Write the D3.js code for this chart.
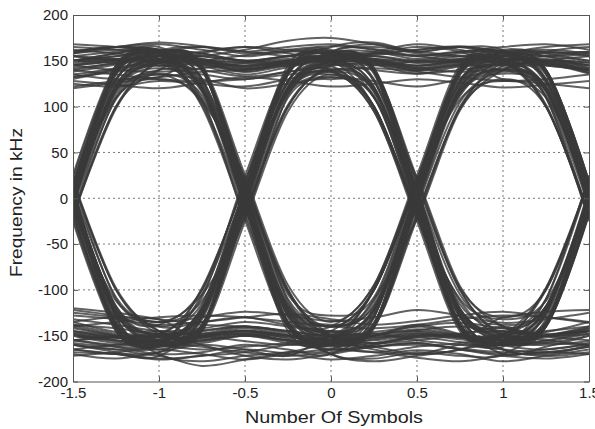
<!DOCTYPE html>
<html><head><meta charset="utf-8">
<script src="https://cdn.jsdelivr.net/npm/d3@7"></script>
<style>
html,body{margin:0;padding:0;background:#fff;}
svg{display:block;font-family:"Liberation Sans",Arial,sans-serif;}
</style></head>
<body>
<svg id="chart" width="595" height="429"></svg>
<script>
// ---- data ----
const xTicks = [-1.5, -1, -0.5, 0, 0.5, 1, 1.5];
const yTicks = [-200, -150, -100, -50, 0, 50, 100, 150, 200];
const sampleX = [-1.5, -1.25, -1, -0.75, -0.5, -0.25, 0, 0.25, 0.5, 0.75, 1, 1.25, 1.5];
// frequency (kHz) of each trace at sampleX
const traces = [
  [140,148,155,150,142,147,152,146,136,144,150,152,145],
  [135,142,150,146,138,149,156,150,140,146,152,118,-4],
  [145,150,158,152,144,148,150,118,3,-122,-142,-118,6],
  [130,140,148,144,135,143,150,122,-6,-125,-155,-150,-140],
  [142,147,152,120,-5,-118,-145,-122,4,120,150,147,138],
  [138,146,155,125,8,-115,-138,-118,-3,117,140,122,7],
  [146,152,156,118,2,-124,-152,-150,-140,-149,-158,-120,-5],
  [132,141,150,123,-7,-120,-150,-148,-145,-150,-160,-155,-145],
  [4,-120,-150,-122,6,120,148,146,140,148,155,150,142],
  [-8,-125,-155,-120,-2,122,152,150,144,150,147,117,2],
  [5,-118,-140,-115,9,114,132,110,-5,-116,-138,-118,3],
  [-3,-122,-148,-125,4,118,140,120,-7,-124,-152,-146,-135],
  [6,-122,-155,-150,-142,-150,-158,-124,-2,121,150,148,140],
  [-5,-126,-160,-152,-145,-152,-150,-120,8,116,138,119,-6],
  [2,-118,-152,-148,-140,-146,-155,-150,-138,-148,-160,-124,3],
  [-6,-125,-158,-155,-148,-156,-165,-160,-150,-152,-158,-150,-142],
  [-3,121,150,148,141,146,153,148,139,145,152,149,140],
  [7,124,152,147,140,149,155,151,142,149,150,120,-2],
  [-5,118,148,150,143,150,152,121,-4,-121,-148,-122,5],
  [4,123,155,150,138,145,148,118,6,-120,-152,-150,-142],
  [2,117,142,116,-6,-122,-150,-121,-3,118,148,150,145],
  [-7,114,136,112,4,-117,-140,-116,6,114,136,116,-4],
  [6,120,145,118,-3,-126,-158,-154,-146,-152,-156,-121,2],
  [-2,119,147,121,5,-123,-155,-150,-143,-150,-160,-158,-150],
  [-140,-150,-158,-124,3,121,150,148,142,146,151,148,137],
  [-145,-152,-155,-121,-5,118,146,150,145,151,153,121,5],
  [-138,-148,-156,-125,7,117,138,116,-6,-122,-150,-120,-3],
  [-150,-156,-162,-128,-4,120,142,117,3,-124,-155,-152,-145],
  [-142,-150,-157,-152,-146,-153,-160,-127,4,122,152,147,136],
  [-135,-146,-152,-150,-144,-150,-155,-122,-7,115,140,118,5],
  [-148,-155,-160,-156,-150,-158,-165,-160,-152,-157,-162,-126,-2],
  [-146,-152,-158,-153,-148,-155,-162,-158,-150,-154,-160,-156,-148],
  [122,128,135,130,120,125,132,128,122,130,140,112,-10],
  [158,165,170,166,160,165,168,162,155,160,165,168,162],
  [-160,-168,-175,-172,-165,-170,-176,-172,-166,-170,-178,-172,-165],
  [-122,-128,-135,-130,-124,-128,-134,-130,-122,-128,-136,-132,-125],
  [12,110,130,108,15,-105,-128,-108,14,108,128,110,15],
  [-12,-112,-135,-112,-14,110,130,112,-12,-110,-132,-112,-13],
  [150,158,162,130,12,-110,-140,-112,12,128,160,155,142],
  [-160,-165,-168,-132,-10,115,135,110,-12,-130,-170,-162,-150],
  [10,-130,-170,-178,-172,-168,-165,-130,10,126,155,150,140],
  [-10,128,160,165,158,162,166,163,156,160,158,125,-10],
  [12,130,160,158,150,155,160,130,10,-128,-165,-170,-160],
  [150,158,165,130,10,-130,-170,-175,-168,-172,-170,-132,-12],
  [-165,-170,-172,-130,-8,126,158,160,152,158,160,128,8],
  [12,-130,-165,-128,10,128,160,168,160,165,162,130,10],
  [-155,-162,-170,-168,-160,-165,-170,-130,10,125,152,130,12],
  [160,165,168,162,155,160,162,128,10,-128,-160,-125,10],
  [-168,-170,-172,-183,-176,-168,-160,-162,-158,-165,-170,-168,-162],
  [150,148,150,155,162,172,175,168,158,155,158,160,155],
  [-18,-138,-150,-100,18,138,150,100,-18,-138,-152,-100,18],
  [18,-100,-148,-140,-18,100,145,140,18,-100,-150,-140,-18],
  [16,136,152,102,-16,-140,-155,-98,20,140,150,102,-20],
  [-20,98,150,142,16,-102,-152,-138,-16,98,148,140,18],
  [160,165,162,142,20,-100,-150,-165,-170,-160,-155,-98,20],
  [-125,-130,-138,-100,18,138,155,160,168,162,150,140,18],
  [125,122,128,125,122,130,138,100,-18,-138,-165,-172,-168],
  [-170,-175,-168,-160,-165,-172,-150,-140,-18,100,145,160,165],
  [-15,-140,-160,-98,16,140,165,170,160,165,150,100,-18],
  [15,138,158,100,-20,-135,-170,-178,-172,-165,-150,-140,-16],
  [120,126,132,140,18,-100,-148,-100,18,138,130,125,120],
  [-120,-125,-132,-140,-18,100,140,100,-18,-140,-130,-124,-122],
  [128,124,120,126,132,128,122,125,130,126,121,124,128],
  [162,158,155,160,165,158,152,156,162,166,160,155,158],
  [-172,-168,-165,-170,-176,-170,-165,-168,-174,-178,-172,-168,-170],
  [-138,-142,-148,-144,-140,-145,-150,-146,-140,-136,-142,-148,-144],
  [-128,-132,-138,-135,-130,-126,-132,-138,-134,-128,-124,-130,-136],
  [145,140,138,142,148,152,147,140,136,140,146,150,148],
  [-18,100,140,158,165,162,158,152,145,150,158,165,168],
  [168,165,160,152,148,145,150,158,165,160,145,140,18],
  [18,-100,-145,-160,-172,-176,-170,-162,-158,-165,-172,-175,-170],
  [-165,-170,-176,-172,-168,-160,-155,-162,-170,-165,-150,-98,18],
  [-16,-138,-150,-145,-140,-148,-158,-100,16,138,150,100,-16],
  [16,138,150,146,140,148,152,142,16,-100,-148,-140,-16],
  [20,-98,-145,-138,-16,102,138,98,-20,-140,-160,-165,-158],
  [-20,100,148,140,14,-102,-140,-100,20,140,162,158,150],
  [0,-135,-155,-140,5,140,158,138,-8,-142,-160,-140,10],
  [-5,140,160,142,8,-138,-158,-136,-4,138,155,140,6],
  [150,155,160,145,25,-95,-135,-95,25,145,158,110,-25],
  [-150,-158,-160,-145,-25,95,135,95,-25,-145,-158,-110,25],
  [-25,-145,-160,-155,-150,-155,-160,-110,-22,96,140,150,155],
  [25,145,160,155,150,155,160,110,22,-96,-140,-150,-155],
  [155,150,148,108,-24,-140,-155,-140,-10,105,140,150,148],
  [-155,-150,-148,-108,24,140,155,140,10,-105,-140,-150,-148],
  [10,-108,-135,-105,-22,112,150,155,150,152,150,145,140],
  [-10,108,135,105,22,-112,-150,-158,-152,-150,-155,-150,-145],
  [135,130,132,138,140,145,150,140,22,-98,-130,-100,22],
  [-135,-130,-132,-138,-140,-145,-150,-140,-22,98,130,100,-22],
  [22,142,158,105,-10,-135,-160,-138,10,112,150,145,140],
  [-22,-142,-158,-105,10,135,160,138,-10,-112,-150,-145,-140],
  [150,152,150,148,145,150,155,152,150,148,140,138,12],
  [-150,-152,-150,-148,-145,-150,-155,-152,-150,-148,-140,-138,-12],
  [-145,-150,-155,-150,-148,-150,-145,-100,15,135,155,158,160],
  [145,150,155,150,148,150,145,100,-15,-135,-155,-158,-160],
  [18,-110,-140,-135,-130,-138,-140,-95,20,130,145,135,15],
  [-18,110,140,135,130,138,140,95,-20,-130,-145,-135,-15],
  [-10,-145,-158,-120,-10,120,150,155,148,150,148,118,8],
  [10,145,158,120,10,-120,-150,-155,-148,-150,-148,-118,-8],
  [-158,-162,-160,-118,10,128,160,165,160,155,148,110,-20],
  [158,162,160,118,-10,-128,-160,-168,-162,-158,-148,-110,20],
  [132,138,145,140,133,138,145,148,142,138,142,146,140],
  [150,155,160,165,160,155,150,145,150,155,160,162,158],
  [-150,-155,-160,-165,-162,-158,-152,-148,-155,-160,-165,-168,-162],
  [-132,-138,-145,-142,-135,-140,-146,-150,-144,-140,-146,-150,-145],
  [8,130,145,128,-8,-128,-145,-128,8,128,145,128,-8],
  [-8,-128,-145,-128,8,128,145,128,-8,-128,-145,-128,8],
  [5,-140,-152,-138,-3,136,150,140,4,-138,-150,-136,-5],
  [-4,138,152,140,3,-140,-155,-138,-5,135,150,138,4],
  [148,152,150,142,-8,-145,-160,-140,6,142,158,138,-6],
  [-148,-152,-150,-142,8,145,160,140,-6,-142,-158,-138,6],
  [-6,-140,-158,-150,-145,-150,-155,-138,8,140,155,140,-8],
  [6,140,158,150,145,150,155,138,-8,-140,-155,-140,8],
  [160,165,162,145,6,-138,-152,-136,-4,140,155,150,145],
  [-160,-165,-162,-145,-6,138,152,136,4,-140,-155,-150,-145],
  [3,-142,-160,-140,-8,135,152,158,155,150,152,136,-3],
  [-3,142,160,140,8,-135,-152,-158,-155,-150,-152,-136,3],
  [155,160,162,158,150,155,158,140,6,-138,-150,-138,-5],
  [-155,-160,-162,-158,-150,-155,-158,-140,-6,138,150,138,5],
  [-8,135,150,142,-4,-140,-158,-142,3,138,150,155,160],
  [8,-135,-150,-142,4,140,158,142,-3,-138,-150,-155,-160],
  [140,135,130,128,130,135,140,142,138,132,128,130,135],
  [-140,-135,-130,-128,-130,-135,-140,-142,-138,-132,-128,-130,-135],
  [155,152,148,150,156,160,158,152,148,152,158,160,156],
  [-155,-152,-148,-150,-156,-160,-158,-152,-148,-152,-158,-160,-156],
  [-165,-160,-158,-162,-168,-172,-168,-162,-160,-164,-168,-165,-160],
  [165,162,158,155,150,148,152,158,162,165,160,155,150]
];
const xLabel = "Number Of Symbols";
const yLabel = "Frequency in kHz";

// ---- layout ----
const svg = d3.select("#chart");
const L = 73, R = 589, T = 15, B = 381.5;
const x = d3.scaleLinear().domain([-1.5, 1.5]).range([L, R]);
const y = d3.scaleLinear().domain([-200, 200]).range([B, T]);

svg.append("defs").append("clipPath").attr("id", "clip")
  .append("rect").attr("x", L).attr("y", T).attr("width", R - L).attr("height", B - T);

// grid
const grid = svg.append("g");
grid.selectAll(".gx").data(xTicks.slice(1, -1)).enter().append("line")
  .attr("x1", d => x(d)).attr("x2", d => x(d)).attr("y1", T).attr("y2", B)
  .attr("stroke", "#777").attr("stroke-width", 1).attr("stroke-dasharray", "2,3");
grid.selectAll(".gy").data(yTicks.slice(1, -1)).enter().append("line")
  .attr("y1", d => y(d)).attr("y2", d => y(d)).attr("x1", L).attr("x2", R)
  .attr("stroke", "#777").attr("stroke-width", 1).attr("stroke-dasharray", "2,3");

// traces
const line = d3.line().x((d, i) => x(sampleX[i])).y(d => y(d)).curve(d3.curveCardinal.tension(0));
svg.append("g").attr("clip-path", "url(#clip)")
  .selectAll("path").data(traces).enter().append("path")
  .attr("d", line).attr("fill", "none")
  .attr("stroke", "#3a3a3a").attr("stroke-width", 2).attr("stroke-opacity", 0.8);

// axes
const fmt = d => String(d);
const axB = svg.append("g").attr("transform", `translate(0,${B})`)
  .call(d3.axisBottom(x).tickValues(xTicks).tickFormat(fmt).tickSizeInner(-5).tickSizeOuter(0).tickPadding(6));
const axL = svg.append("g").attr("transform", `translate(${L},0)`)
  .call(d3.axisLeft(y).tickValues(yTicks).tickFormat(fmt).tickSizeInner(-5).tickSizeOuter(0).tickPadding(5));
const axT = svg.append("g").attr("transform", `translate(0,${T})`)
  .call(d3.axisTop(x).tickValues(xTicks).tickFormat("").tickSizeInner(-5).tickSizeOuter(0));
const axR = svg.append("g").attr("transform", `translate(${R},0)`)
  .call(d3.axisRight(y).tickValues(yTicks).tickFormat("").tickSizeInner(-5).tickSizeOuter(0));
[axB, axL, axT, axR].forEach(a => {
  a.select(".domain").attr("stroke", "#555");
  a.selectAll(".tick line").attr("stroke", "#555");
  a.selectAll("text").attr("fill", "#222").style("font-size", "15px")
    .style("font-family", "'Liberation Sans', Arial, sans-serif");
});

svg.append("text").attr("x", 334).attr("y", 423).attr("text-anchor", "middle")
  .attr("fill", "#222").style("font-size", "17px")
  .attr("textLength", 178).attr("lengthAdjust", "spacingAndGlyphs").text(xLabel);
svg.append("text").attr("transform", `translate(22,202.5) rotate(-90)`)
  .attr("text-anchor", "middle").attr("fill", "#222").style("font-size", "17px")
  .attr("textLength", 149).attr("lengthAdjust", "spacingAndGlyphs").text(yLabel);
</script>
</body></html>
